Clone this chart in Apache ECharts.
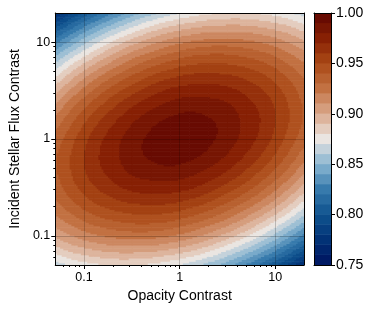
<!DOCTYPE html>
<html>
<head>
<meta charset="utf-8">
<script src="https://cdn.jsdelivr.net/npm/echarts@6.0.0/dist/echarts.min.js"></script>
<style>
html,body{margin:0;padding:0;background:#ffffff;}
#chart{width:374px;height:312px;}
</style>
</head>
<body>
<div id="chart"></div>
<script>
// ---- data ----
// grid nodes, log10 of the contrast
const opacityLog10 = [-1.3,-1.1,-0.9,-0.7,-0.5,-0.3,-0.1,0.1,0.3,0.5,0.7,0.9,1.1,1.3];
const fluxLog10    = [-1.3,-1.1,-0.9,-0.7,-0.5,-0.3,-0.1,0.1,0.3,0.5,0.7,0.9,1.1,1.3];
// values: one row per flux node (low -> high), one column per opacity node (low -> high)
const matchValues = [
  [0.865,0.873,0.878,0.881,0.881,0.878,0.873,0.866,0.856,0.844,0.829,0.812,0.792,0.770],
  [0.891,0.900,0.906,0.910,0.911,0.910,0.906,0.900,0.891,0.879,0.865,0.849,0.830,0.809],
  [0.911,0.921,0.929,0.934,0.937,0.937,0.934,0.928,0.920,0.910,0.897,0.881,0.863,0.843],
  [0.926,0.937,0.947,0.953,0.957,0.958,0.957,0.952,0.945,0.935,0.923,0.909,0.892,0.872],
  [0.935,0.948,0.959,0.967,0.973,0.975,0.975,0.972,0.965,0.956,0.945,0.931,0.915,0.896],
  [0.939,0.953,0.966,0.975,0.983,0.987,0.989,0.986,0.980,0.972,0.961,0.948,0.933,0.915],
  [0.937,0.952,0.966,0.977,0.986,0.993,0.997,0.996,0.990,0.982,0.972,0.960,0.945,0.929],
  [0.929,0.945,0.960,0.972,0.982,0.990,0.996,0.997,0.993,0.986,0.977,0.966,0.952,0.937],
  [0.915,0.933,0.948,0.961,0.972,0.980,0.986,0.989,0.987,0.983,0.975,0.966,0.953,0.939],
  [0.896,0.915,0.931,0.945,0.956,0.965,0.972,0.975,0.975,0.973,0.967,0.959,0.948,0.935],
  [0.872,0.892,0.909,0.923,0.935,0.945,0.952,0.957,0.958,0.957,0.953,0.947,0.937,0.926],
  [0.843,0.863,0.881,0.897,0.910,0.920,0.928,0.934,0.937,0.937,0.934,0.929,0.921,0.911],
  [0.809,0.830,0.849,0.865,0.879,0.891,0.900,0.906,0.910,0.911,0.910,0.906,0.900,0.891],
  [0.770,0.792,0.812,0.829,0.844,0.856,0.866,0.873,0.878,0.881,0.881,0.878,0.873,0.865]
];
const contourLevels = [0.75,0.76,0.77,0.78,0.79,0.80,0.81,0.82,0.83,0.84,0.85,0.86,0.87,0.88,0.89,0.90,0.91,0.92,0.93,0.94,0.95,0.96,0.97,0.98,0.99,1.00];
const axisRange = [0.05, 20];
const majorTickValues = [0.1, 1, 10];
const majorTickLabels = ['0.1', '1', '10'];
const minorTickValues = [0.06,0.07,0.08,0.09,0.2,0.3,0.4,0.5,0.6,0.7,0.8,0.9,2,3,4,5,6,7,8,9];
const colorbarRange = [0.75, 1.00];
const colorbarStep = 0.05;

// ---- styles ----
const FONT = 'Liberation Sans';
const cmapStops = [
  [0.00, 0, 20, 95],
  [0.10, 2, 50, 118],
  [0.20, 15, 82, 142],
  [0.30, 55, 122, 172],
  [0.40, 138, 182, 209],
  [0.50, 234, 229, 225],
  [0.60, 218, 168, 140],
  [0.70, 194, 113, 66],
  [0.80, 170, 73, 22],
  [0.90, 135, 32, 4],
  [1.00, 96, 6, 2]
];
function cmap(t) {
  t = Math.max(0, Math.min(1, t));
  for (let i = 1; i < cmapStops.length; i++) {
    const a = cmapStops[i - 1], b = cmapStops[i];
    if (t <= b[0]) {
      const f = (t - a[0]) / (b[0] - a[0]);
      const c = [1, 2, 3].map(k => Math.round(a[k] + (b[k] - a[k]) * f));
      return 'rgb(' + c.join(',') + ')';
    }
  }
  const l = cmapStops[cmapStops.length - 1];
  return 'rgb(' + l[1] + ',' + l[2] + ',' + l[3] + ')';
}
const nBands = contourLevels.length - 1;
const lvMin = contourLevels[0], lvMax = contourLevels[nBands];
const bandColors = [];
for (let k = 0; k < nBands; k++) {
  const mid = (contourLevels[k] + contourLevels[k + 1]) / 2;
  bandColors.push(cmap((mid - lvMin) / (lvMax - lvMin)));
}
function bandIndex(f) {
  let k = 0;
  while (k < nBands - 1 && f >= contourLevels[k + 1]) k++;
  return k;
}

// ---- field rendering helpers ----
const LOG = v => Math.log10(v);
const nU = opacityLog10.length, nV = fluxLog10.length;
const edgeU = opacityLog10.slice(); edgeU[0] = LOG(axisRange[0]); edgeU[nU - 1] = LOG(axisRange[1]);
const edgeV = fluxLog10.slice();    edgeV[0] = LOG(axisRange[0]); edgeV[nV - 1] = LOG(axisRange[1]);
function G(r, c) {
  if (r < 0) return 2 * G(0, c) - G(1, c);
  if (r > nV - 1) return 2 * G(nV - 1, c) - G(nV - 2, c);
  if (c < 0) return 2 * G(r, 0) - G(r, 1);
  if (c > nU - 1) return 2 * G(r, nU - 1) - G(r, nU - 2);
  return matchValues[r][c];
}
function cr(p0, p1, p2, p3, t) {
  return 0.5 * (2 * p1 + (-p0 + p2) * t + (2 * p0 - 5 * p1 + 4 * p2 - p3) * t * t + (-p0 + 3 * p1 - 3 * p2 + p3) * t * t * t);
}
function field(i, j, tx, ty) {
  const col = d => cr(G(j + d, i - 1), G(j + d, i), G(j + d, i + 1), G(j + d, i + 2), tx);
  return cr(col(-1), col(0), col(1), col(2), ty);
}

const cells = [];
for (let j = 0; j < nV - 1; j++) {
  for (let i = 0; i < nU - 1; i++) {
    cells.push([(edgeU[i] + edgeU[i + 1]) / 2, (edgeV[j] + edgeV[j + 1]) / 2, i, j]);
  }
}
const SUB = 12;
function renderCell(params, api) {
  const i = api.value(2), j = api.value(3);
  const cx = api.value(0), cy = api.value(1);
  const xs = [], ys = [];
  for (let s = 0; s <= SUB; s++) {
    xs.push(api.coord([edgeU[i] + (edgeU[i + 1] - edgeU[i]) * s / SUB, cy])[0]);
    ys.push(api.coord([cx, edgeV[j] + (edgeV[j + 1] - edgeV[j]) * s / SUB])[1]);
  }
  const children = [];
  for (let sy = 0; sy < SUB; sy++) {
    const ty = (sy + 0.5) / SUB;
    let runStart = 0, runK = -1;
    for (let sx = 0; sx <= SUB; sx++) {
      const k = sx < SUB ? bandIndex(field(i, j, (sx + 0.5) / SUB, ty)) : -2;
      if (k !== runK) {
        if (runK >= 0) {
          children.push({
            type: 'rect',
            shape: { x: xs[runStart], y: ys[sy + 1] - 0.6, width: xs[sx] - xs[runStart] + 0.6, height: ys[sy] - ys[sy + 1] + 0.6 },
            style: { fill: bandColors[runK] }
          });
        }
        runStart = sx; runK = k;
      }
    }
  }
  return { type: 'group', children: children };
}

const barData = [];
for (let k = 0; k < nBands; k++) barData.push([0.5, (contourLevels[k] + contourLevels[k + 1]) / 2, k]);
function renderBar(params, api) {
  const k = api.value(2);
  const p0 = api.coord([0, contourLevels[k]]);
  const p1 = api.coord([1, contourLevels[k + 1]]);
  return {
    type: 'rect',
    shape: { x: p0[0], y: p1[1] - 0.5, width: p1[0] - p0[0], height: p0[1] - p1[1] + 0.5 },
    style: { fill: bandColors[k] }
  };
}

function majorLabel(v) {
  for (let i = 0; i < majorTickValues.length; i++) {
    if (Math.abs(LOG(majorTickValues[i]) - v) < 1e-6) return majorTickLabels[i];
  }
  return '';
}

const txt = { color: '#000', fontFamily: FONT };
const blackLine = { color: '#000', width: 1 };
function logAxisMain(isX) {
  return {
    type: 'value', gridIndex: 0, min: LOG(axisRange[0]), max: LOG(axisRange[1]),
    position: isX ? 'bottom' : 'left', z: 10,
    axisLine: { show: true, onZero: false, lineStyle: blackLine },
    axisTick: { show: true, inside: false, length: 4, customValues: majorTickValues.map(LOG), lineStyle: blackLine },
    axisLabel: Object.assign({ customValues: majorTickValues.map(LOG), formatter: majorLabel, margin: isX ? 6 : 5, fontSize: 12.5 }, txt),
    splitLine: { show: true, lineStyle: { color: 'rgba(0,0,0,0.2)', width: 1 } },
    name: isX ? 'Opacity Contrast' : 'Incident Stellar Flux Contrast',
    nameLocation: 'middle', nameGap: isX ? 24 : 31,
    nameTextStyle: Object.assign({ fontSize: 14 }, txt)
  };
}
function logAxisMinor(isX) {
  return {
    type: 'value', gridIndex: 0, min: LOG(axisRange[0]), max: LOG(axisRange[1]),
    position: isX ? 'bottom' : 'left', z: 10,
    axisLine: { show: false, onZero: false },
    axisTick: { show: true, inside: false, length: 2, customValues: minorTickValues.map(LOG), lineStyle: blackLine },
    axisLabel: { show: false }, splitLine: { show: false }
  };
}
function frameAxis(isX, pos, grid, min, max) {
  return {
    type: 'value', gridIndex: grid, min: min, max: max, position: pos, z: 10,
    axisLine: { show: true, onZero: false, lineStyle: blackLine },
    axisTick: { show: false }, axisLabel: { show: false }, splitLine: { show: false }
  };
}

const chart = echarts.init(document.getElementById('chart'), null, { renderer: 'canvas', width: 374, height: 312 });
chart.setOption({
  animation: false,
  backgroundColor: '#ffffff',
  grid: [
    { left: 52, top: 13, width: 252, height: 252 },
    { left: 314, top: 13, width: 17, height: 252 }
  ],
  xAxis: [
    logAxisMain(true),
    logAxisMinor(true),
    frameAxis(true, 'top', 0, LOG(axisRange[0]), LOG(axisRange[1])),
    frameAxis(true, 'bottom', 1, 0, 1),
    frameAxis(true, 'top', 1, 0, 1)
  ],
  yAxis: [
    logAxisMain(false),
    logAxisMinor(false),
    frameAxis(false, 'right', 0, LOG(axisRange[0]), LOG(axisRange[1])),
    {
      type: 'value', gridIndex: 1, min: colorbarRange[0], max: colorbarRange[1], interval: colorbarStep,
      position: 'right', z: 10,
      axisLine: { show: true, onZero: false, lineStyle: blackLine },
      axisTick: { show: true, inside: false, length: 4, lineStyle: blackLine },
      axisLabel: Object.assign({ formatter: v => v.toFixed(2), margin: 5, fontSize: 14 }, txt),
      splitLine: { show: false }
    },
    frameAxis(false, 'left', 1, colorbarRange[0], colorbarRange[1])
  ],
  series: [
    {
      type: 'custom', xAxisIndex: 0, yAxisIndex: 0, data: cells,
      encode: { x: 0, y: 1 }, renderItem: renderCell, clip: true, silent: true, z: 2
    },
    {
      type: 'custom', xAxisIndex: 3, yAxisIndex: 3, data: barData,
      encode: { x: 0, y: 1 }, renderItem: renderBar, clip: true, silent: true, z: 2
    }
  ]
});
</script>
</body>
</html>
